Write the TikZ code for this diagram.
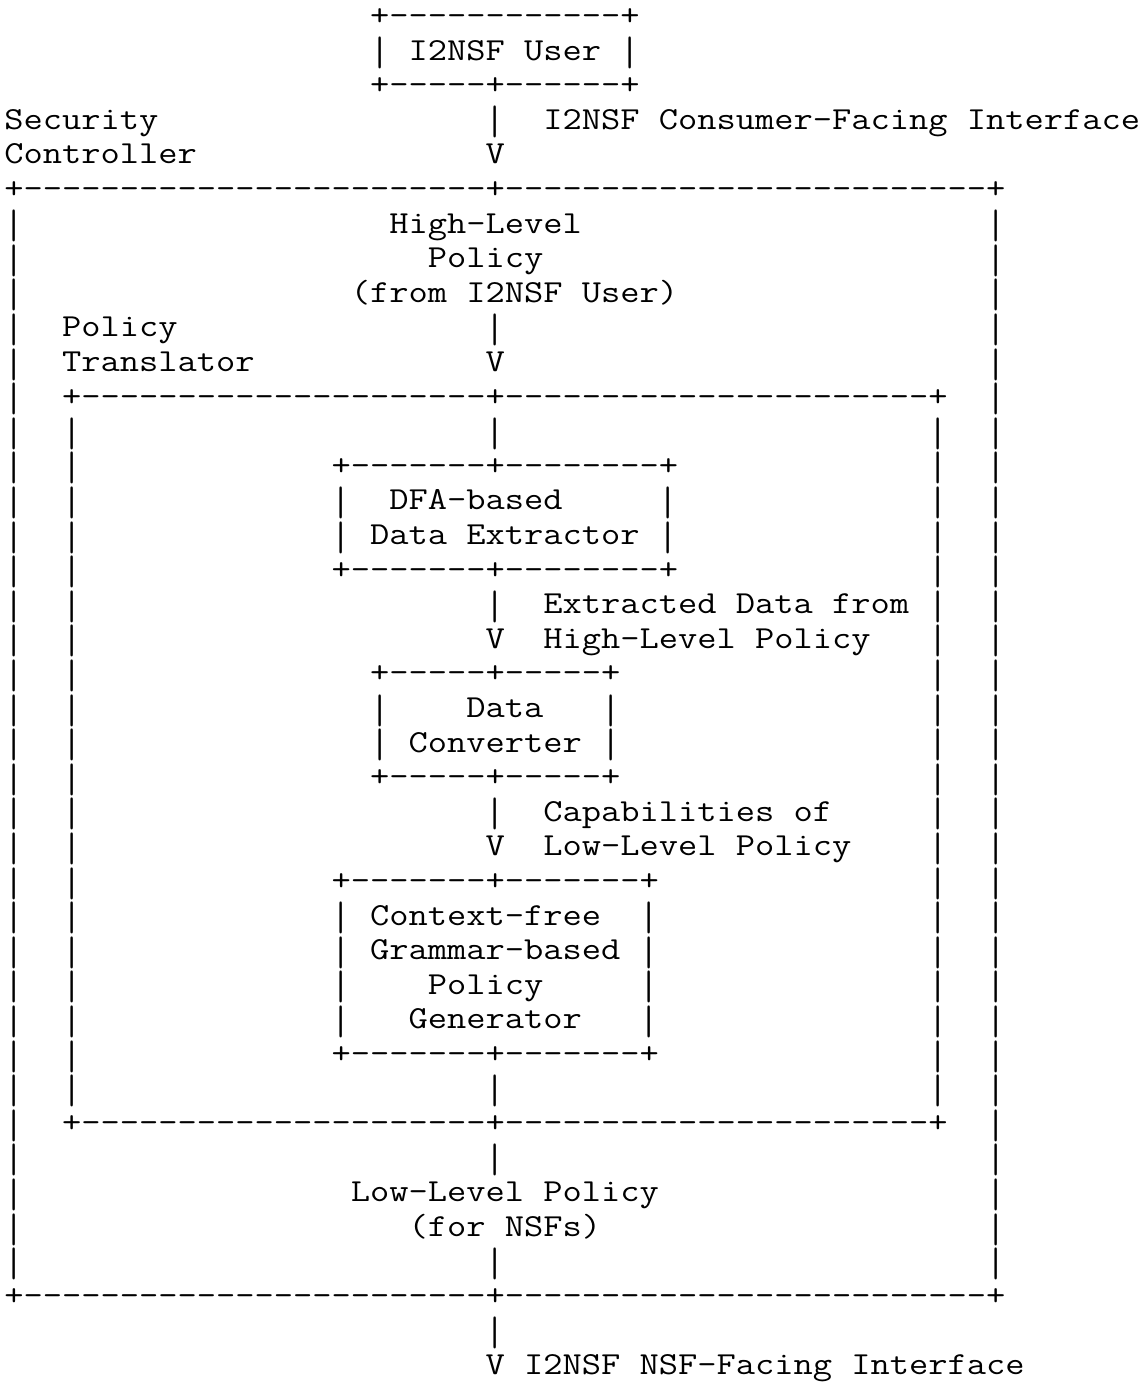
\documentclass[tikz,border=0pt]{standalone}
\usepackage{fontspec}
\usepackage{graphicx}
\ExplSyntaxOn
\cs_new:Npn \dashrun #1 { \prg_replicate:nn {#1} { -\kern0pt } }
\ExplSyntaxOff
\newlength\chw
\newlength\bht
\newlength\bdp
\newcommand\sx{1}
\newcommand\bs{1}
\newcommand\vb{\raisebox{-9pt}{\scalebox{1}[\bs]{\raisebox{\bdp}{|}}}}
\tikzset{asc/.style={anchor=base west, inner sep=0pt, outer sep=0pt,
  font=\ttfamily\fontsize{32.08pt}{34.6pt}\selectfont, text=black}}
\newcommand\At[3]{\node[asc] (t#1c#2) at ({4.4pt+#2*19.25pt},{-25.5pt-(#1-1)*34.6pt}) {\scalebox{\sx}[1]{#3}};}
\begin{document}
\setbox0\hbox{\ttfamily\fontsize{32.08pt}{34.6pt}\selectfont M}\chw=\wd0
\setbox0\hbox{\ttfamily\fontsize{32.08pt}{34.6pt}\selectfont |}\bht=\ht0 \bdp=\dp0
\pgfmathsetmacro\sx{19.25/\chw}
\pgfmathsetmacro\bs{32/(\bht+\bdp)}
\begin{tikzpicture}
\useasboundingbox (0,0) rectangle (1143pt,-1383pt);
\At{1}{19}{+\dashrun{12}+}
\At{2}{19}{\vb{} I2NSF User \vb}
\At{3}{19}{+\dashrun{5}+\dashrun{6}+}
\At{4}{0}{Security} \At{4}{25}{\vb} \At{4}{28}{I2NSF Consumer-Facing Interface}
\At{5}{0}{Controller} \At{5}{25}{V}
\At{6}{0}{+\dashrun{24}+\dashrun{25}+}
\At{7}{20}{High-Level}
\At{8}{22}{Policy}
\At{9}{18}{(from I2NSF User)}
\At{10}{3}{Policy} \At{10}{25}{\vb}
\At{11}{3}{Translator} \At{11}{25}{V}
\At{12}{3}{+\dashrun{21}+\dashrun{22}+}
\At{13}{25}{\vb}
\At{14}{17}{+\dashrun{7}+\dashrun{8}+}
\At{15}{17}{\vb} \At{15}{20}{DFA-based} \At{15}{34}{\vb}
\At{16}{17}{\vb{} Data Extractor \vb}
\At{17}{17}{+\dashrun{7}+\dashrun{8}+}
\At{18}{25}{\vb} \At{18}{28}{Extracted Data from}
\At{19}{25}{V} \At{19}{28}{High-Level Policy}
\At{20}{19}{+\dashrun{5}+\dashrun{5}+}
\At{21}{19}{\vb} \At{21}{24}{Data} \At{21}{31}{\vb}
\At{22}{19}{\vb{} Converter \vb}
\At{23}{19}{+\dashrun{5}+\dashrun{5}+}
\At{24}{25}{\vb} \At{24}{28}{Capabilities of}
\At{25}{25}{V} \At{25}{28}{Low-Level Policy}
\At{26}{17}{+\dashrun{7}+\dashrun{7}+}
\At{27}{17}{\vb{} Context-free} \At{27}{33}{\vb}
\At{28}{17}{\vb{} Grammar-based \vb}
\At{29}{17}{\vb} \At{29}{22}{Policy} \At{29}{33}{\vb}
\At{30}{17}{\vb} \At{30}{21}{Generator} \At{30}{33}{\vb}
\At{31}{17}{+\dashrun{7}+\dashrun{7}+}
\At{32}{25}{\vb}
\At{33}{3}{+\dashrun{21}+\dashrun{22}+}
\At{34}{25}{\vb}
\At{35}{18}{Low-Level Policy}
\At{36}{21}{(for NSFs)}
\At{37}{25}{\vb}
\At{38}{0}{+\dashrun{24}+\dashrun{25}+}
\At{39}{25}{\vb}
\At{40}{25}{V I2NSF NSF-Facing Interface}
\foreach \l in {7,...,37} {\At{\l}{0}{\vb}\At{\l}{51}{\vb}}
\foreach \l in {13,...,32} {\At{\l}{3}{\vb}\At{\l}{48}{\vb}}
\end{tikzpicture}
\end{document}
